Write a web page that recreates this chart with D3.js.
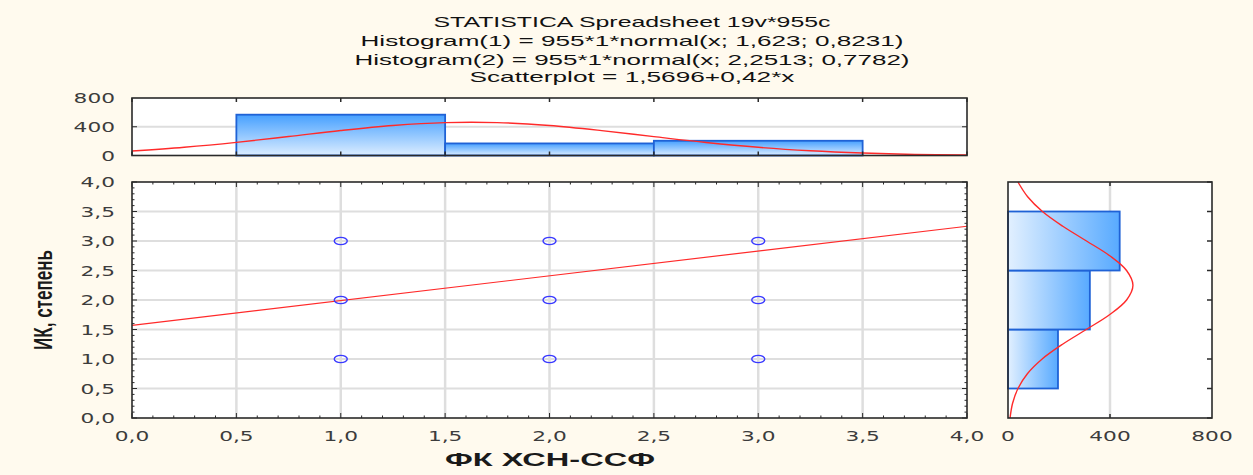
<!DOCTYPE html>
<html>
<head>
<meta charset="utf-8">
<script src="https://cdn.jsdelivr.net/npm/d3@7"></script>
<style>
  body { margin: 0; background: #fffaee; }
  svg { display: block; }
</style>
</head>
<body>
<div id="graf"></div>
<script>
// datos
const titulo = [
  'STATISTICA Spreadsheet 19v*955c',
  'Histogram(1) = 955*1*normal(x; 1,623; 0,8231)',
  'Histogram(2) = 955*1*normal(x; 2,2513; 0,7782)',
  'Scatterplot = 1,5696+0,42*x'
]
const xTitulo = 'ФК ХСН-ССФ'
const yTitulo = 'ИК, степень'

const ticksMain = [0, 0.5, 1, 1.5, 2, 2.5, 3, 3.5, 4]
const ticksMainTxt = ['0,0', '0,5', '1,0', '1,5', '2,0', '2,5', '3,0', '3,5', '4,0']
const ticksHist = [0, 400, 800]
const ticksHistTxt = ['0', '400', '800']

// histogramas (inicio de clase, fin, conteo)
const binIni = [0.5, 1.5, 2.5]
const binFin = [1.5, 2.5, 3.5]
const conteoX = [568, 168, 205]
const conteoY = [196, 321, 438]

// curvas
const curvaPos = [0, 0.25, 0.5, 0.75, 1, 1.25, 1.5, 1.75, 2, 2.25, 2.5, 2.75, 3, 3.25, 3.5, 3.75, 4]
const curvaX = [62, 115, 183, 264, 348, 418, 458, 458, 417, 346, 262, 181, 114, 66, 34, 14, 6]
const curvaY = [8, 18, 39, 76, 134, 214, 307, 398, 465, 490, 465, 399, 308, 215, 135, 77, 39]

// puntos de dispersion
const ptsX = [1, 1, 1, 2, 2, 2, 3, 3, 3]
const ptsY = [1, 2, 3, 1, 2, 3, 1, 2, 3]

// recta de regresion
const rectaX = [0, 4]
const rectaY = [1.57, 3.25]

const anchoTotal = 1253
const altoTotal = 475

const svg = d3.select('#graf')
  .append('svg')
  .attr('width', anchoTotal)
  .attr('height', altoTotal)

svg.append('rect')
  .attr('width', anchoTotal)
  .attr('height', altoTotal)
  .attr('fill', '#fffaee')

const defs = svg.append('defs')
const gradV = defs.append('linearGradient')
  .attr('id', 'gradV').attr('x1', 0).attr('y1', 0).attr('x2', 0).attr('y2', 1)
gradV.append('stop').attr('offset', '0%').attr('stop-color', '#46a0ff')
gradV.append('stop').attr('offset', '100%').attr('stop-color', '#dcedff')
const gradH = defs.append('linearGradient')
  .attr('id', 'gradH').attr('x1', 0).attr('y1', 0).attr('x2', 1).attr('y2', 0)
gradH.append('stop').attr('offset', '0%').attr('stop-color', '#e2f0ff')
gradH.append('stop').attr('offset', '100%').attr('stop-color', '#58aaff')

// escalas
const x = d3.scaleLinear().domain([0, 4]).range([132, 967])
const y = d3.scaleLinear().domain([0, 4]).range([418, 182])
const yTop = d3.scaleLinear().domain([0, 800]).range([155.5, 98])
const xDer = d3.scaleLinear().domain([0, 800]).range([1008, 1212])

const colTexto = '#3c3c3c'
const colMarco = '#2a2a2a'
const colGrid = '#dedede'

// texto estirado a lo ancho (como el original)
function texto(px, py, t, anchor) {
  svg.append('text')
    .attr('transform', `translate(${px}, ${py}) scale(1.55, 1)`)
    .attr('text-anchor', anchor)
    .attr('font-family', 'DejaVu Sans')
    .attr('font-size', 14)
    .attr('fill', colTexto)
    .text(t)
}

// titulo
const titAncho = [397, 543, 555, 325]
const titY = [27, 46, 65, 82]
titulo.forEach((t, i) => {
  svg.append('text')
    .attr('x', 632)
    .attr('y', titY[i])
    .attr('text-anchor', 'middle')
    .attr('font-family', 'Liberation Sans')
    .attr('font-size', 15)
    .attr('fill', '#111')
    .attr('textLength', titAncho[i])
    .attr('lengthAdjust', 'spacingAndGlyphs')
    .text(t)
})

// ---------- grafico principal ----------
const gMain = svg.append('g')
gMain.append('rect')
  .attr('x', x(0)).attr('y', y(4))
  .attr('width', x(4) - x(0)).attr('height', y(0) - y(4))
  .attr('fill', '#fff')

gMain.selectAll('.gv').data(ticksMain.slice(1, -1)).enter().append('line')
  .attr('x1', d => x(d)).attr('x2', d => x(d))
  .attr('y1', y(4)).attr('y2', y(0))
  .attr('stroke', colGrid).attr('stroke-width', 2.5)
gMain.selectAll('.gh').data(ticksMain.slice(1, -1)).enter().append('line')
  .attr('y1', d => y(d)).attr('y2', d => y(d))
  .attr('x1', x(0)).attr('x2', x(4))
  .attr('stroke', colGrid).attr('stroke-width', 1.8)

// ticks menores y mayores
const menores = d3.range(0, 41).map(d => d / 10)
const tickLen = d => (Math.round(d * 10) % 5 === 0 ? 5 : 2.5)
gMain.selectAll('.tb').data(menores).enter().append('line')
  .attr('x1', d => x(d)).attr('x2', d => x(d))
  .attr('y1', y(0)).attr('y2', d => y(0) - tickLen(d))
  .attr('stroke', colMarco)
gMain.selectAll('.tt').data(menores).enter().append('line')
  .attr('x1', d => x(d)).attr('x2', d => x(d))
  .attr('y1', y(4)).attr('y2', d => y(4) + tickLen(d))
  .attr('stroke', colMarco)
gMain.selectAll('.tl').data(menores).enter().append('line')
  .attr('y1', d => y(d)).attr('y2', d => y(d))
  .attr('x1', x(0)).attr('x2', d => x(0) + tickLen(d))
  .attr('stroke', colMarco)
gMain.selectAll('.tr').data(menores).enter().append('line')
  .attr('y1', d => y(d)).attr('y2', d => y(d))
  .attr('x1', x(4)).attr('x2', d => x(4) - tickLen(d))
  .attr('stroke', colMarco)

// recta
gMain.append('path')
  .datum(rectaX.map((d, i) => [d, rectaY[i]]))
  .attr('d', d3.line().x(d => x(d[0])).y(d => y(d[1])))
  .attr('stroke', '#ff2a2a').attr('stroke-width', 1.2).attr('fill', 'none')

// puntos
gMain.selectAll('ellipse').data(ptsX).enter().append('ellipse')
  .attr('cx', d => x(d))
  .attr('cy', (d, i) => y(ptsY[i]))
  .attr('rx', 6.5).attr('ry', 3.6)
  .attr('fill', 'none')
  .attr('stroke', '#3a3aff').attr('stroke-width', 1.4)

gMain.append('rect')
  .attr('x', x(0)).attr('y', y(4))
  .attr('width', x(4) - x(0)).attr('height', y(0) - y(4))
  .attr('fill', 'none').attr('stroke', colMarco).attr('stroke-width', 1.6)

ticksMain.forEach((d, i) => {
  texto(x(d), 441, ticksMainTxt[i], 'middle')
  texto(115, y(d) + 5, ticksMainTxt[i], 'end')
})

// ---------- histograma superior ----------
const gTop = svg.append('g')
gTop.append('rect')
  .attr('x', x(0)).attr('y', yTop(800))
  .attr('width', x(4) - x(0)).attr('height', yTop(0) - yTop(800))
  .attr('fill', '#fff')
gTop.append('line')
  .attr('x1', x(0)).attr('x2', x(4))
  .attr('y1', yTop(400)).attr('y2', yTop(400))
  .attr('stroke', colGrid).attr('stroke-width', 2)

gTop.selectAll('rect.barra').data(conteoX).enter().append('rect')
  .attr('class', 'barra')
  .attr('x', (d, i) => x(binIni[i]))
  .attr('width', (d, i) => x(binFin[i]) - x(binIni[i]))
  .attr('y', d => yTop(d))
  .attr('height', d => yTop(0) - yTop(d))
  .attr('fill', 'url(#gradV)')
  .attr('stroke', '#1f62d6').attr('stroke-width', 1.8)

gTop.append('path')
  .datum(curvaPos.map((d, i) => [d, curvaX[i]]))
  .attr('d', d3.line().x(d => x(d[0])).y(d => yTop(d[1])).curve(d3.curveCatmullRom))
  .attr('stroke', '#ff2a2a').attr('stroke-width', 1.4).attr('fill', 'none')

gTop.selectAll('.ttb').data(ticksMain).enter().append('line')
  .attr('x1', d => x(d)).attr('x2', d => x(d))
  .attr('y1', yTop(0)).attr('y2', yTop(0) - 4)
  .attr('stroke', colMarco).attr('stroke-width', 1.5)
gTop.selectAll('.ttt').data(ticksMain).enter().append('line')
  .attr('x1', d => x(d)).attr('x2', d => x(d))
  .attr('y1', yTop(800)).attr('y2', yTop(800) + 4)
  .attr('stroke', colMarco).attr('stroke-width', 1.5)
gTop.append('line')
  .attr('x1', x(0)).attr('x2', x(0) + 5)
  .attr('y1', yTop(400)).attr('y2', yTop(400))
  .attr('stroke', colMarco)
gTop.append('line')
  .attr('x1', x(4)).attr('x2', x(4) - 5)
  .attr('y1', yTop(400)).attr('y2', yTop(400))
  .attr('stroke', colMarco)

gTop.append('rect')
  .attr('x', x(0)).attr('y', yTop(800))
  .attr('width', x(4) - x(0)).attr('height', yTop(0) - yTop(800))
  .attr('fill', 'none').attr('stroke', colMarco).attr('stroke-width', 1.6)

ticksHist.forEach((d, i) => {
  texto(115, yTop(d) + 5, ticksHistTxt[i], 'end')
})

// ---------- histograma derecho ----------
const gDer = svg.append('g')
gDer.append('rect')
  .attr('x', xDer(0)).attr('y', y(4))
  .attr('width', xDer(800) - xDer(0)).attr('height', y(0) - y(4))
  .attr('fill', '#fff')
gDer.append('line')
  .attr('x1', xDer(400)).attr('x2', xDer(400))
  .attr('y1', y(4)).attr('y2', y(0))
  .attr('stroke', colGrid).attr('stroke-width', 2.5)

gDer.selectAll('rect.barra').data(conteoY).enter().append('rect')
  .attr('class', 'barra')
  .attr('x', xDer(0))
  .attr('width', d => xDer(d) - xDer(0))
  .attr('y', (d, i) => y(binFin[i]))
  .attr('height', (d, i) => y(binIni[i]) - y(binFin[i]))
  .attr('fill', 'url(#gradH)')
  .attr('stroke', '#1f62d6').attr('stroke-width', 1.8)

gDer.append('path')
  .datum(curvaPos.map((d, i) => [d, curvaY[i]]))
  .attr('d', d3.line().x(d => xDer(d[1])).y(d => y(d[0])).curve(d3.curveCatmullRom))
  .attr('stroke', '#ff2a2a').attr('stroke-width', 1.4).attr('fill', 'none')

gDer.selectAll('.tdr').data(ticksMain).enter().append('line')
  .attr('y1', d => y(d)).attr('y2', d => y(d))
  .attr('x1', xDer(800)).attr('x2', xDer(800) - 5)
  .attr('stroke', colMarco).attr('stroke-width', 1.5)
gDer.append('line')
  .attr('x1', xDer(400)).attr('x2', xDer(400))
  .attr('y1', y(4)).attr('y2', y(4) + 4)
  .attr('stroke', colMarco).attr('stroke-width', 1.5)
gDer.append('line')
  .attr('x1', xDer(400)).attr('x2', xDer(400))
  .attr('y1', y(0)).attr('y2', y(0) - 4)
  .attr('stroke', colMarco).attr('stroke-width', 1.5)

gDer.append('rect')
  .attr('x', xDer(0)).attr('y', y(4))
  .attr('width', xDer(800) - xDer(0)).attr('height', y(0) - y(4))
  .attr('fill', 'none').attr('stroke', colMarco).attr('stroke-width', 1.6)

ticksHist.forEach((d, i) => {
  texto(xDer(d), 441, ticksHistTxt[i], 'middle')
})

// titulos de ejes
svg.append('text')
  .attr('x', 550).attr('y', 466)
  .attr('text-anchor', 'middle')
  .attr('font-family', 'Liberation Sans')
  .attr('font-weight', 'bold')
  .attr('font-size', 18)
  .attr('fill', '#1a1a1a')
  .attr('textLength', 210)
  .attr('lengthAdjust', 'spacingAndGlyphs')
  .text(xTitulo)

svg.append('text')
  .attr('transform', 'translate(52, 300) rotate(-90)')
  .attr('text-anchor', 'middle')
  .attr('font-family', 'Liberation Sans')
  .attr('font-weight', 'bold')
  .attr('font-size', 25)
  .attr('fill', '#1a1a1a')
  .attr('textLength', 100)
  .attr('lengthAdjust', 'spacingAndGlyphs')
  .text(yTitulo)
</script>
</body>
</html>
